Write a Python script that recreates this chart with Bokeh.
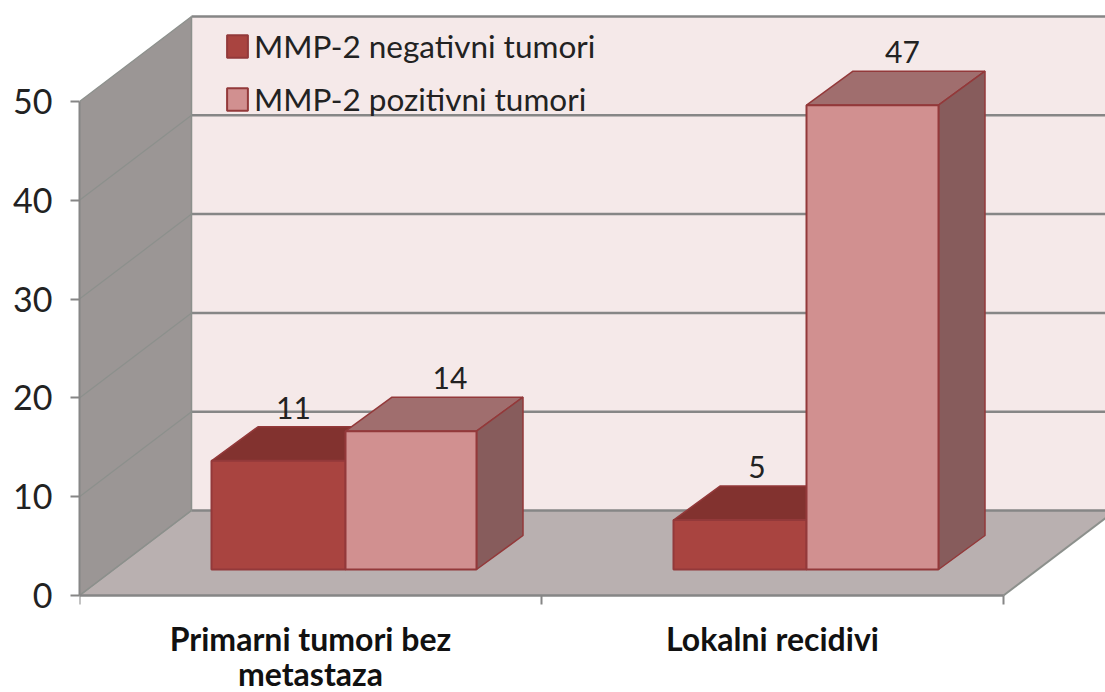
from bokeh.plotting import figure
from bokeh.embed import file_html
from bokeh.resources import INLINE
from bokeh.models import Range1d, LinearAxis, FixedTicker, Legend, LegendItem
from bokeh.core.properties import value

categories_line1 = ["Primarni tumori bez", "Lokalni recidivi"]
categories_line2 = ["metastaza", ""]
negative = [11, 5]
positive = [14, 47]
series_names = ["MMP-2 negativni tumori", "MMP-2 pozitivni tumori"]
y_ticks = [0, 10, 20, 30, 40, 50]

PX = 9.88                # pixels per y unit
X0, X1 = 79, 1003        # front floor edge, in pixels
RIGHT = 1105
W_DX, W_DY = 112, 85 / PX    # depth of the walls
B_DX, B_DY = 46.5, 34 / PX   # depth of the bars
BASE = 26 / PX               # bars stand this far back on the floor
BAR_LEFT = [211, 673]
BAR_MID = [345, 806]
BAR_RIGHT = [476, 938]
LABEL_DX_NEG = [15, 17]
LABEL_DX_POS = [39, 30]

WALL = "#9b9695"; FLOOR = "#b9b0b0"; BACK = "#f5e9e9"; GRID = "#868686"
EDGE = "#93393a"
C1 = ("#a94440", "#82322f", "#6e2a28")
C2 = ("#d19090", "#a06e6e", "#875c5c")
FONT = value("Lato")

p = figure(width=1105, height=692, output_backend="svg", toolbar_location=None,
           x_range=Range1d(X0, RIGHT), y_range=Range1d(-97 / PX, 581 / PX),
           min_border_left=79, min_border_right=0, min_border_top=14, min_border_bottom=0,
           x_axis_location=None, y_axis_location=None, outline_line_color=None,
           background_fill_color="white", border_fill_color="white")
p.grid.visible = False

# walls and floor
top = y_ticks[-1]
p.patch([X0 + W_DX, X1 + W_DX + 50, X1 + W_DX + 50, X0 + W_DX],
        [W_DY, W_DY, top + W_DY, top + W_DY], fill_color=BACK, line_color=None)
p.patch([X0, X0, X0 + W_DX, X0 + W_DX], [0, top, top + W_DY, W_DY], fill_color=WALL, line_color=None)
p.patch([X0, X1, X1 + W_DX, X0 + W_DX], [0, 0, W_DY, W_DY], fill_color=FLOOR, line_color=None)

# gridlines: across the back wall and diagonally over the side wall
p.multi_line([[X0 + W_DX, X1 + W_DX] for t in y_ticks],
             [[t + W_DY, t + W_DY] for t in y_ticks], line_color=GRID, line_width=2.5)
p.multi_line([[X0, X0 + W_DX] for t in y_ticks],
             [[t, t + W_DY] for t in y_ticks], line_color="#8c908c", line_width=1.2)
p.line([X0, X0 + W_DX], [0, W_DY], line_color="#8c908c", line_width=1.5)
p.line([X1, X1 + W_DX], [0, W_DY], line_color="#8c908c", line_width=2)
p.line([X0 + W_DX, X0 + W_DX], [W_DY, top + W_DY], line_color="#8c908c", line_width=1.5)


def bars(vals, xl, xr, colors):
    n = range(len(vals))
    yb = [BASE] * len(vals)
    yt = [v + BASE for v in vals]
    p.patches([[xl[i], xr[i], xr[i] + B_DX, xl[i] + B_DX] for i in n],
              [[yt[i], yt[i], yt[i] + B_DY, yt[i] + B_DY] for i in n],
              fill_color=colors[1], line_color=EDGE, line_width=1.5)
    p.patches([[xr[i], xr[i] + B_DX, xr[i] + B_DX, xr[i]] for i in n],
              [[yb[i], yb[i] + B_DY, yt[i] + B_DY, yt[i]] for i in n],
              fill_color=colors[2], line_color=EDGE, line_width=1.5)
    return p.quad(left=xl, right=xr, bottom=yb, top=yt,
                  fill_color=colors[0], line_color=EDGE, line_width=2)


r1 = bars(negative, BAR_LEFT, BAR_MID, C1)
r2 = bars(positive, BAR_MID, BAR_RIGHT, C2)

# value labels sit above the back edge of each bar's top
lab_x = [(BAR_LEFT[i] + BAR_MID[i]) / 2 + LABEL_DX_NEG[i] for i in range(2)] + \
        [(BAR_MID[i] + BAR_RIGHT[i]) / 2 + LABEL_DX_POS[i] for i in range(2)]
lab_y = [v + BASE + B_DY + 1.9 for v in negative] + [v + BASE + B_DY + 1.9 for v in positive]
p.text(lab_x, lab_y, text=[str(v) for v in negative + positive], text_font=FONT,
       text_font_size="30px", text_color="#222222", text_align="center", text_baseline="middle")

# axes
ya = LinearAxis(ticker=FixedTicker(ticks=y_ticks), bounds=(y_ticks[0], y_ticks[-1]))
ya.axis_line_color = GRID; ya.axis_line_width = 2
ya.major_tick_line_color = GRID; ya.major_tick_line_width = 2
ya.major_tick_out = 9; ya.major_tick_in = 0; ya.minor_tick_out = 0; ya.minor_tick_in = 0
ya.major_label_text_font = "Lato"; ya.major_label_text_font_size = "34px"
ya.major_label_text_color = "#222222"; ya.major_label_standoff = 18
p.add_layout(ya, "left")

mid = (X0 + X1) / 2
centers = [(X0 + mid) / 2, (mid + X1) / 2]


def x_axis(labels, with_line, standoff):
    a = LinearAxis(ticker=FixedTicker(ticks=centers, minor_ticks=[X0, mid, X1]),
                   bounds=(X0, X1), fixed_location=0)
    a.major_label_overrides = {c: t for c, t in zip(centers, labels)}
    a.major_tick_out = 0; a.major_tick_in = 0; a.minor_tick_in = 0
    a.major_label_text_font = "Lato"; a.major_label_text_font_style = "bold"
    a.major_label_text_font_size = "32px"; a.major_label_text_color = "#111111"
    a.major_label_standoff = standoff
    if with_line:
        a.axis_line_color = GRID; a.axis_line_width = 2.5
        a.minor_tick_line_color = GRID; a.minor_tick_line_width = 2; a.minor_tick_out = 9
    else:
        a.axis_line_color = None; a.minor_tick_line_color = None; a.minor_tick_out = 0
    p.add_layout(a, "below")


x_axis(categories_line1, True, 14)
x_axis(categories_line2, False, 58)

leg = Legend(items=[LegendItem(label=series_names[0], renderers=[r1]),
                    LegendItem(label=series_names[1], renderers=[r2])],
             location=(145, 574), orientation="vertical", background_fill_alpha=0,
             border_line_alpha=0, glyph_width=26, glyph_height=28, label_standoff=4,
             spacing=15, padding=0, margin=0, label_text_font="Lato",
             label_text_font_size="31.5px", label_text_color="#222222")
p.add_layout(leg)

open("out.html", "w").write(file_html(p, INLINE))
